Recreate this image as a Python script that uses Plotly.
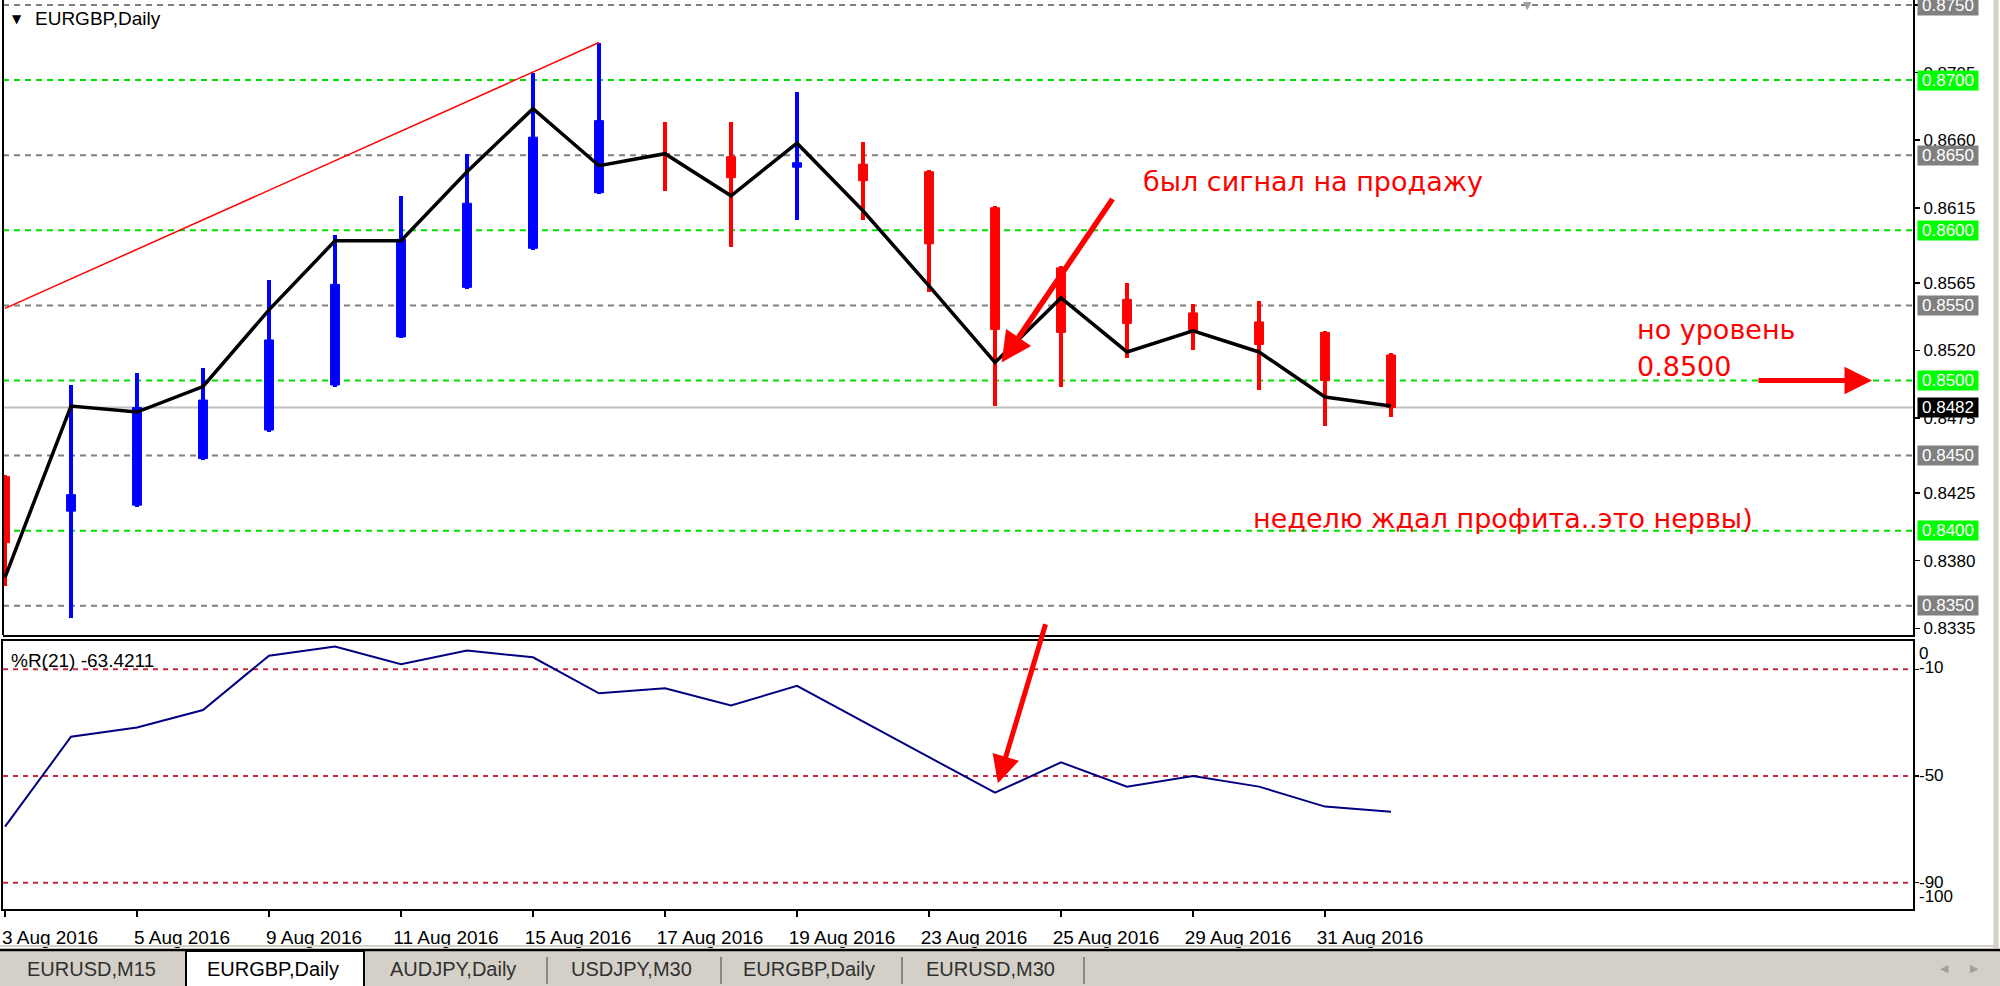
import plotly.graph_objects as go

# ---------------- data ----------------
dates = ["3 Aug 2016", "4 Aug 2016", "5 Aug 2016", "8 Aug 2016", "9 Aug 2016",
         "10 Aug 2016", "11 Aug 2016", "12 Aug 2016", "15 Aug 2016", "16 Aug 2016",
         "17 Aug 2016", "18 Aug 2016", "19 Aug 2016", "22 Aug 2016", "23 Aug 2016",
         "24 Aug 2016", "25 Aug 2016", "26 Aug 2016", "29 Aug 2016", "30 Aug 2016",
         "31 Aug 2016", "1 Sep 2016"]
open_ = [0.8436, 0.8413, 0.8417, 0.8448, 0.8467, 0.8497, 0.8529, 0.8562, 0.8588, 0.8625,
         0.8651, 0.8649, 0.8642, 0.8644, 0.8639, 0.8615, 0.8575, 0.8554, 0.8545, 0.8539,
         0.8532, 0.8517]
high = [0.8437, 0.8497, 0.8505, 0.8508, 0.8567, 0.8597, 0.8623, 0.8651, 0.8705, 0.8725,
        0.8672, 0.8672, 0.8692, 0.8659, 0.8640, 0.8616, 0.8576, 0.8565, 0.8551, 0.8553,
        0.8533, 0.8518]
low = [0.8363, 0.8342, 0.8416, 0.8447, 0.8466, 0.8496, 0.8528, 0.8561, 0.8587, 0.8624,
       0.8626, 0.8589, 0.8607, 0.8607, 0.8559, 0.8483, 0.8496, 0.8515, 0.8520, 0.8494,
       0.8470, 0.8476]
close = [0.8392, 0.8424, 0.8482, 0.8487, 0.8527, 0.8564, 0.8594, 0.8618, 0.8662, 0.8673,
         0.8650, 0.8635, 0.8645, 0.8633, 0.8591, 0.8534, 0.8532, 0.8538, 0.8533, 0.8524,
         0.8500, 0.8482]
# thick black line drawn over the candles
line_price = [0.8369, 0.8483, 0.8479, 0.8496, 0.8547, 0.8593, 0.8593, 0.8639, 0.8681, 0.8643,
              0.8651, 0.8623, 0.8658, 0.8613, 0.8563, 0.8512, 0.8555, 0.8519, 0.8533, 0.8519,
              0.8489, 0.8483]
# Williams %R(21)
wpr = [-69.0, -35.3, -31.8, -25.3, -4.9, -1.5, -8.1, -3.0, -5.5, -19.0, -17.1, -23.6,
       -16.2, -29.5, -43.0, -56.3, -44.9, -54.0, -50.0, -54.0, -61.5, -63.4211]
# red trend line (from first bar to 16 Aug high)
trend_dates = ["3 Aug 2016", "16 Aug 2016"]
trend_price = [0.8548, 0.8725]

green_levels = [0.8700, 0.8600, 0.8500, 0.8400]
grey_levels = [0.8750, 0.8650, 0.8550, 0.8450, 0.8350]
bid_price = 0.8482
price_ticks = [0.8335, 0.8380, 0.8425, 0.8475, 0.8520, 0.8565, 0.8615, 0.8660, 0.8705, 0.8750]
wpr_levels = [-10, -50, -90]
wpr_labels = ["0", "-10", "-50", "-90", "-100"]
tab_names = ["EURUSD,M15", "EURGBP,Daily", "AUDJPY,Daily", "USDJPY,M30", "EURGBP,Daily", "EURUSD,M30"]
title_text = "EURGBP,Daily"
wpr_title = "%R(21) -63.4211"
note_signal = "был сигнал на продажу"
note_level1 = "но уровень"
note_level2 = "0.8500"
note_week = "неделю ждал профита..это нервы)"

# ---------------- layout geometry (pixels) ----------------
W, H = 2000, 986
ML, MR, MT, MB = 3, 87, 0, 77
PW, PH = W - ML - MR, H - MT - MB


def PX(X):
    return (X - ML) / PW


def PY(Y):
    return (PH + MT - Y) / PH


xi = list(range(len(dates)))
didx = {d: i for i, d in enumerate(dates)}
BLUE, RED = "#0000FF", "#FF0000"
col = [BLUE if c >= o else RED for o, c in zip(open_, close)]
FONT = "Liberation Sans, Arial, sans-serif"

fig = go.Figure()

# wicks
fig.add_trace(go.Bar(x=xi, y=[h - l for h, l in zip(high, low)], base=low, width=0.05,
                     marker=dict(color=col, line=dict(width=0)), xaxis="x", yaxis="y",
                     hoverinfo="skip", showlegend=False))
# bodies
fig.add_trace(go.Bar(x=xi, y=[max(abs(c - o), 0.00005) for o, c in zip(open_, close)],
                     base=[min(o, c) for o, c in zip(open_, close)], width=0.135,
                     marker=dict(color=col, line=dict(color=col, width=1)), xaxis="x", yaxis="y",
                     hoverinfo="skip", showlegend=False))
# black line
fig.add_trace(go.Scatter(x=xi, y=line_price, mode="lines", line=dict(color="black", width=3.5),
                         xaxis="x", yaxis="y", hoverinfo="skip", showlegend=False))
# red trend line
fig.add_trace(go.Scatter(x=[didx[d] for d in trend_dates], y=trend_price, mode="lines",
                         line=dict(color="#FF0000", width=1.5), xaxis="x", yaxis="y",
                         hoverinfo="skip", showlegend=False))
# %R
fig.add_trace(go.Scatter(x=xi, y=wpr, mode="lines", line=dict(color="#000080", width=2),
                         xaxis="x2", yaxis="y2", hoverinfo="skip", showlegend=False))

shapes = []
for lv in green_levels:
    shapes.append(dict(type="line", xref="x domain", x0=0, x1=1, yref="y", y0=lv, y1=lv,
                       line=dict(color="#00E000", width=2, dash="6px,5px"), layer="below"))
for lv in grey_levels:
    shapes.append(dict(type="line", xref="x domain", x0=0, x1=1, yref="y", y0=lv, y1=lv,
                       line=dict(color="#808080", width=2, dash="6px,5px"), layer="below"))
shapes.append(dict(type="line", xref="x domain", x0=0, x1=1, yref="y", y0=bid_price, y1=bid_price,
                   line=dict(color="#C0C0C0", width=2), layer="below"))
for lv in wpr_levels:
    shapes.append(dict(type="line", xref="x2 domain", x0=0, x1=1, yref="y2", y0=lv, y1=lv,
                       line=dict(color="#C8283C", width=2, dash="5px,5px"), layer="below"))
# left border of main panel
shapes.append(dict(type="line", xref="paper", x0=0, x1=0, yref="y domain", y0=0, y1=1,
                   line=dict(color="black", width=2)))
# window right edge
shapes.append(dict(type="line", xref="paper", x0=PX(1996), x1=PX(1996), yref="paper",
                   y0=PY(948), y1=PY(0), line=dict(color="#D4D0C8", width=5)))
# tab bar
shapes.append(dict(type="rect", xref="paper", yref="paper", x0=PX(0), x1=PX(W), y0=PY(H), y1=PY(950),
                   fillcolor="#D4D0C8", line=dict(width=0)))
shapes.append(dict(type="line", xref="paper", yref="paper", x0=PX(0), x1=PX(W), y0=PY(950), y1=PY(950),
                   line=dict(color="black", width=2.5)))
shapes.append(dict(type="line", xref="paper", yref="paper", x0=PX(0), x1=PX(1996), y0=PY(946), y1=PY(946),
                   line=dict(color="#D4D0C8", width=2)))
shapes.append(dict(type="rect", xref="paper", yref="paper", x0=PX(186), x1=PX(364), y0=PY(H + 2), y1=PY(951),
                   fillcolor="white", line=dict(color="black", width=2)))
for X in [547, 721, 902, 1084]:
    shapes.append(dict(type="line", xref="paper", yref="paper", x0=PX(X), x1=PX(X), y0=PY(984), y1=PY(957),
                       line=dict(color="#707070", width=1.5)))

ann = []
# price level boxes on the right axis
for lv in green_levels + grey_levels + [bid_price]:
    bg = "#00FF00" if lv in green_levels else ("#000000" if lv == bid_price else "#808080")
    ann.append(dict(text=f"{lv:.4f}", x=1, xref="paper", xanchor="left", xshift=4,
                    y=lv, yref="y", yanchor="middle", showarrow=False, bgcolor=bg,
                    width=60, height=19, borderpad=0, align="center",
                    font=dict(color="white", size=17, family=FONT)))
# %R axis labels
for t, Y in zip(wpr_labels, [653, 668, 775, 882, 896]):
    ann.append(dict(text=t, x=1, xref="paper", xanchor="left", xshift=4, y=PY(Y), yref="paper",
                    yanchor="middle", showarrow=False, font=dict(color="black", size=17, family=FONT)))
# titles
ann.append(dict(text="▼", x=PX(10), y=PY(19), xref="paper", yref="paper", xanchor="left", yanchor="middle",
                showarrow=False, font=dict(size=12, color="black", family="DejaVu Sans")))
ann.append(dict(text=title_text, x=PX(33), y=PY(18), xref="paper", yref="paper", xanchor="left",
                yanchor="middle", showarrow=False, font=dict(size=19, color="black", family=FONT)))
ann.append(dict(text=wpr_title, x=PX(9), y=PY(660), xref="paper", yref="paper", xanchor="left",
                yanchor="middle", showarrow=False, font=dict(size=19, color="black", family=FONT)))
ann.append(dict(text="▼", x=PX(1527), y=PY(6), xref="paper", yref="paper", xanchor="center",
                yanchor="middle", showarrow=False, font=dict(size=11, color="#A0A0A0", family="DejaVu Sans")))
# red notes
RFONT = "DejaVu Sans, sans-serif"
for t, X, Y in [(note_signal, 1141, 181), (note_level1, 1635, 330), (note_level2, 1635, 367),
                (note_week, 1251, 518)]:
    ann.append(dict(text=t, x=PX(X), y=PY(Y), xref="paper", yref="paper", xanchor="left",
                    yanchor="middle", showarrow=False, font=dict(size=27, color="#FF0000", family=RFONT)))
# red arrows
ann.append(dict(text="", x=15.1, y=line_price[15], xref="x", yref="y", showarrow=True,
                ax=112, ay=-165, arrowcolor="#FF0000", arrowwidth=5.5, arrowhead=2, arrowsize=1.1,
                standoff=0))
ann.append(dict(text="", x=15, y=wpr[15], xref="x2", yref="y2", showarrow=True,
                ax=51, ay=-170, arrowcolor="#FF0000", arrowwidth=5, arrowhead=2, arrowsize=1.1,
                standoff=10))
ann.append(dict(text="", x=PX(1872), y=green_levels[2], xref="paper", yref="y", showarrow=True,
                ax=-115, ay=0, arrowcolor="#FF0000", arrowwidth=5, arrowhead=2, arrowsize=1.1,
                standoff=0))
# tabs
for t, X in zip(tab_names, [91, 273, 453, 631, 809, 991]):
    ann.append(dict(text=t, x=PX(X), y=PY(969), xref="paper", yref="paper", xanchor="center",
                    yanchor="middle", showarrow=False,
                    font=dict(size=20, color="black" if X == 273 else "#303030", family=FONT)))
for t, X in [("◀", 1945), ("▶", 1974)]:
    ann.append(dict(text=t, x=PX(X), y=PY(969), xref="paper", yref="paper", xanchor="center",
                    yanchor="middle", showarrow=False, font=dict(size=11, color="#A0A0A0", family="DejaVu Sans")))

xr = [(ML - 5) / 66.0, (ML + PW - 5) / 66.0]
yr_main = [0.85 - (635 - 380.5) / 15020, 0.85 + 380.5 / 15020]
yr_wpr = [-(909 - 642.6) / 2.667, -(641 - 642.6) / 2.667]

fig.update_layout(
    template="none", width=W, height=H, autosize=False,
    margin=dict(l=ML, r=MR, t=MT, b=MB, pad=0),
    paper_bgcolor="white", plot_bgcolor="white",
    font=dict(family=FONT, size=17, color="black"),
    barmode="overlay", bargap=0, showlegend=False,
    xaxis=dict(domain=[0, 1], anchor="y", range=xr, showticklabels=False, showgrid=False, zeroline=False,
               showline=True, linecolor="black", linewidth=2, ticks="", fixedrange=True, automargin=False),
    yaxis=dict(domain=[PY(635), 1], anchor="x", side="right", range=yr_main, tickvals=price_ticks,
               ticktext=[f"{v:.4f}" for v in price_ticks], ticks="outside", ticklen=5, tickwidth=1.5,
               tickcolor="black", showline=True, linecolor="black", linewidth=2, showgrid=False,
               zeroline=False, tickfont=dict(size=17, family=FONT), fixedrange=True, automargin=False),
    xaxis2=dict(domain=[0, 1], anchor="y2", range=xr, matches="x", tickvals=xi[::2],
                ticktext=dates[::2], ticks="outside", ticklen=6, tickwidth=1.5, tickcolor="black",
                ticklabelshift=45, ticklabelstandoff=4, showline=True, mirror=True, linecolor="black",
                linewidth=2, showgrid=False, zeroline=False, tickfont=dict(size=19, family=FONT),
                fixedrange=True, automargin=False),
    yaxis2=dict(domain=[0, PY(641)], anchor="x2", side="right", range=yr_wpr, tickvals=wpr_levels,
                showticklabels=False, ticks="outside", ticklen=4, tickwidth=1.5, tickcolor="black",
                showline=True, mirror=True, linecolor="black", linewidth=2, showgrid=False,
                zeroline=False, fixedrange=True, automargin=False),
    shapes=shapes, annotations=ann,
)

fig.write_html("out.html", config={"displayModeBar": False, "staticPlot": True},
               post_script="document.body.style.margin='0';document.body.style.overflow='hidden';")
